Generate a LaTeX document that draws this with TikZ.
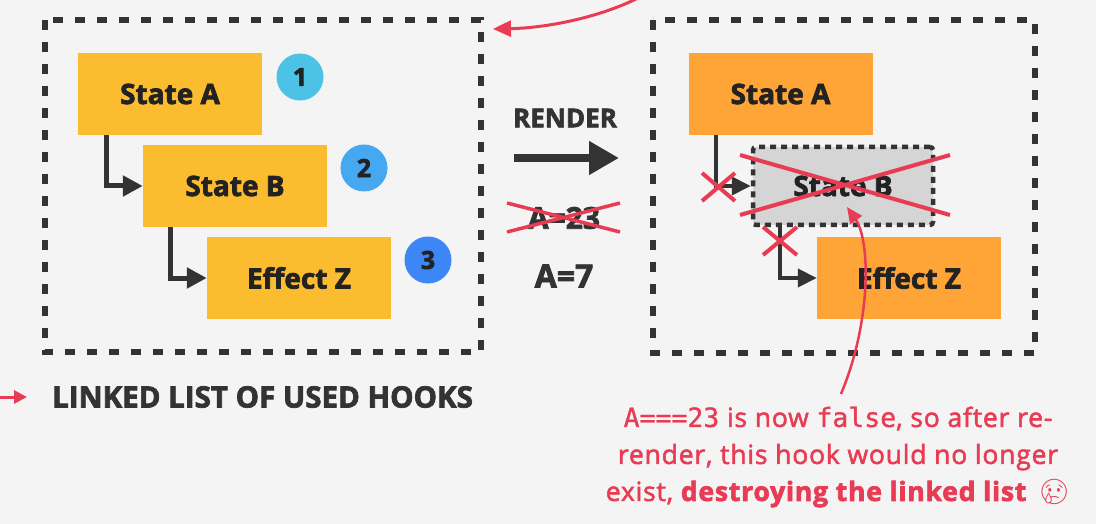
\documentclass[tikz,border=0pt]{standalone}
\usepackage{fontspec}
\setmainfont{Open Sans}[BoldFeatures={FakeBold=2.5}]
\newfontfamily\redf{Open Sans}[LetterSpace=3,UprightFeatures={FakeBold=2},BoldFeatures={FakeBold=2.5}]
\newfontfamily\monof{DejaVu Sans Mono}[FakeBold=1]
\newfontfamily\emojif{Noto Emoji}
\usetikzlibrary{arrows.meta}
\definecolor{bg}{HTML}{F4F4F4}
\definecolor{dark}{HTML}{333333}
\definecolor{ink}{HTML}{222222}
\definecolor{yel}{HTML}{FBBC2F}
\definecolor{org}{HTML}{FFA436}
\definecolor{gry}{HTML}{D5D5D5}
\definecolor{red}{HTML}{E83C54}
\definecolor{cA}{HTML}{4CC3E6}
\definecolor{cB}{HTML}{45A8F0}
\definecolor{cC}{HTML}{3D86F5}
\tikzset{
  hookbox/.style={minimum width=184pt, minimum height=82pt, inner sep=0pt, text=ink,
    font=\fontsize{28}{30}\selectfont\bfseries},
  yelbox/.style={hookbox, fill=yel},
  orgbox/.style={hookbox, fill=org},
  gonebox/.style={hookbox, minimum width=180pt, minimum height=78pt, fill=gry, draw=dark,
    line width=4.5pt, dash pattern=on 6pt off 5pt, rounded corners=3pt},
  badge/.style={circle, minimum size=47pt, inner sep=0pt, text=ink,
    font=\fontsize{25}{27}\selectfont\bfseries},
  dbox/.style={draw=dark, line width=5.5pt, dash pattern=on 10pt off 12pt},
  conn/.style={draw=dark, line width=5pt, -{Triangle[length=20pt,width=20pt]}},
  connR/.style={draw=dark, line width=4pt, -{Triangle[length=19pt,width=18pt]}},
  cross/.style={draw=red, line width=4pt},
  redarrow/.style={draw=red, line width=3pt, -{Triangle[length=18pt,width=16pt]}},
  lbl/.style={text=dark, inner sep=0pt, font=\bfseries},
}
\begin{document}
\begin{tikzpicture}[x=1pt,y=-1pt]
\useasboundingbox (0,0) rectangle (1096,524);
\fill[bg] (0,0) rectangle (1096,524);

% dashed containers
\draw[dbox] (45,20) rectangle (481,352);
\draw[dbox] (653,20) rectangle (1035,353);

% left: linked list
\node[yelbox] (la) at (170,94) {State A};
\node[yelbox] (lb) at (235,186) {State B};
\node[yelbox] (lz) at (299,278) {Effect Z};
\node[badge, fill=cA] (n1) at (300,77) {1};
\node[badge, fill=cB] (n2) at (364,168) {2};
\node[badge, fill=cC] (n3) at (428,260) {3};
\coordinate (lx1) at (106,0);
\coordinate (lx2) at (170,0);
\draw[conn] (la.south -| lx1) |- (lb.west);
\draw[conn] (lb.south -| lx2) |- (lz.west);

% middle
\node[lbl, font=\fontsize{26}{28}\selectfont\bfseries] (render) at (565,118) {RENDER};
\coordinate (r1) at (514,158);
\coordinate (r2) at (619,158);
\draw[draw=dark, line width=7.5pt, -{Triangle[length=30pt,width=32pt]}] (r1) -- (r2);
\node[lbl, font=\fontsize{30}{32}\selectfont\bfseries] (old) at (564,218) {A=23};
\coordinate (x1) at (507,203);
\coordinate (x2) at (620,232);
\coordinate (x3) at (507,232);
\coordinate (x4) at (620,203);
\draw[cross, line width=3.5pt] (x1) -- (x2);
\draw[cross, line width=3.5pt] (x3) -- (x4);
\node[lbl, font=\fontsize{32}{34}\selectfont\bfseries] (new) at (564,276) {A=7};

% right: broken list
\node[orgbox] (ra) at (780.5,94) {State A};
\node[gonebox] (rb) at (843,186) {State B};
\node[orgbox] (rz) at (909,278) {Effect Z};
\coordinate (rx1) at (716,0);
\coordinate (rx2) at (780,0);
\draw[connR] (ra.south -| rx1) |- (rb.west);
\draw[connR] (rb.south -| rx2) |- (rz.west);
% crosses
\coordinate (b1) at (740,155);
\coordinate (b2) at (950,215);
\coordinate (b3) at (740,215);
\coordinate (b4) at (950,155);
\draw[cross] (b1) -- (b2);
\draw[cross] (b3) -- (b4);
\coordinate (s1) at (702,173);
\coordinate (s2) at (735,201);
\coordinate (s3) at (702,201);
\coordinate (s4) at (735,173);
\draw[cross] (s1) -- (s2);
\draw[cross] (s3) -- (s4);
\coordinate (t1) at (763,227);
\coordinate (t2) at (797,255);
\coordinate (t3) at (763,255);
\coordinate (t4) at (797,227);
\draw[cross] (t1) -- (t2);
\draw[cross] (t3) -- (t4);

% explanation
\node[text=red, align=center, inner sep=0pt, font=\redf\fontsize{26.5}{37}\selectfont] (note) at (838,457)
  {{\monof A===23} is now {\monof false}, so after re-\\
   render, this hook would no longer\\
   exist, {\bfseries destroying the linked list}\hspace{12pt}{\emojif\fontsize{25}{27}\selectfont 😢}};
\coordinate (cs) at (841,394);
\coordinate (ce) at (847,207);
\draw[draw=red, line width=2.5pt, -{Triangle[length=16pt,width=14pt]}] (cs) .. controls (872,320) and (870,240) .. (ce);

% top pointer
\coordinate (p1) at (642,-4);
\coordinate (p2) at (493,29);
\draw[redarrow] (p1) .. controls (600,18) and (545,28) .. (p2);

% legend
\coordinate (g1) at (-2,397);
\coordinate (g2) at (27,397);
\draw[draw=red, line width=3pt, -{Triangle[length=13pt,width=13pt]}] (g1) -- (g2);
\node[lbl, anchor=west, font=\fontsize{29.5}{31}\selectfont\bfseries] (legend) at (52,397) {LINKED LIST OF USED HOOKS};
\end{tikzpicture}
\end{document}
